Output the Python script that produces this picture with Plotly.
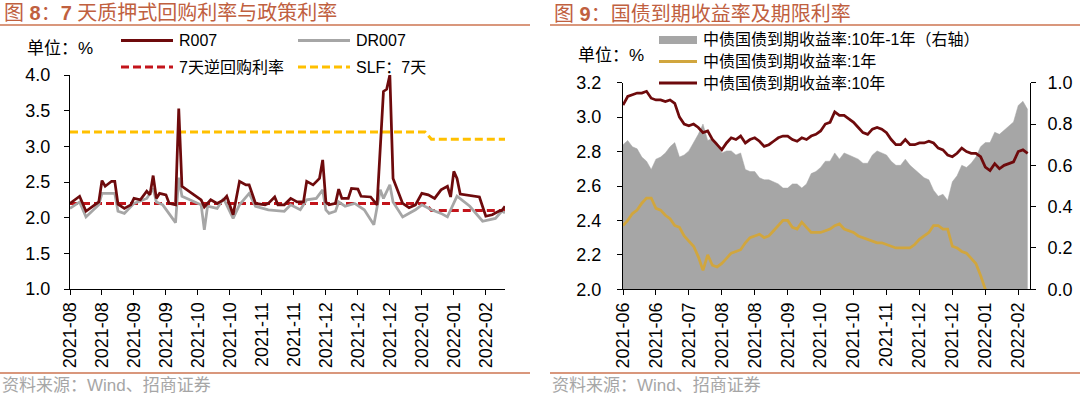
import plotly.graph_objects as go

W, H = 1080, 394

# ---------------- Figure 8 data (x = trading-day index) ----------------
tick_labels_8 = ["2021-08", "2021-08", "2021-09", "2021-09", "2021-10", "2021-10", "2021-11",
                 "2021-11", "2021-12", "2021-12", "2021-12", "2022-01", "2022-01", "2022-02"]
tick_step_8 = 10

r007_day = [0, 3, 5, 9, 10, 11, 13, 14, 15, 17, 19, 20, 22, 24, 25, 26, 27, 28, 30, 31, 33, 34, 35,
            41, 42, 44, 46, 48, 49, 51, 53, 55, 56, 58, 61, 62, 64, 65, 67, 69, 71, 73, 74, 76, 78,
            79, 80, 81, 83, 84, 85, 87, 88, 90, 91, 94, 96, 98, 99, 100, 101, 103, 104, 106, 108,
            110, 112, 114, 116, 118, 119, 120, 121, 122, 128, 130, 132, 134, 135, 136]
r007 = [2.20, 2.30, 2.09, 2.22, 2.52, 2.44, 2.51, 2.51, 2.19, 2.13, 2.18, 2.27, 2.25, 2.37, 2.32,
        2.59, 2.27, 2.34, 2.32, 2.20, 2.18, 3.53, 2.44, 2.25, 2.15, 2.25, 2.20, 2.25, 2.30, 2.04,
        2.51, 2.46, 2.46, 2.20, 2.18, 2.20, 2.29, 2.18, 2.18, 2.27, 2.22, 2.22, 2.51, 2.46, 2.55,
        2.81, 2.22, 2.18, 2.20, 2.40, 2.27, 2.27, 2.41, 2.40, 2.30, 2.29, 2.18, 3.77, 3.80, 4.00,
        2.55, 2.32, 2.20, 2.14, 2.18, 2.34, 2.32, 2.27, 2.39, 2.44, 2.29, 2.65, 2.55, 2.33, 2.29,
        2.02, 2.04, 2.09, 2.10, 2.16]

dr007_day = [0, 3, 5, 9, 10, 14, 15, 17, 20, 24, 26, 27, 29, 31, 33, 34, 35, 41, 42, 43, 46, 48,
             51, 53, 56, 58, 62, 67, 69, 72, 74, 77, 79, 80, 81, 83, 84, 86, 89, 92, 95, 97, 98,
             100, 101, 104, 106, 108, 110, 113, 116, 118, 121, 125, 129, 133, 135, 136]
dr007 = [2.13, 2.22, 2.01, 2.18, 2.34, 2.34, 2.09, 2.06, 2.20, 2.27, 2.41, 2.22, 2.18, 2.06, 1.93,
         2.56, 2.30, 2.18, 1.83, 2.16, 2.13, 2.27, 1.99, 2.18, 2.34, 2.16, 2.11, 2.09, 2.18, 2.11,
         2.25, 2.27, 2.39, 2.11, 2.06, 2.09, 2.22, 2.16, 2.20, 2.11, 1.90, 2.39, 2.27, 2.46, 2.22,
         2.01, 2.06, 2.11, 2.18, 2.11, 2.06, 2.01, 2.30, 2.16, 1.95, 1.99, 2.09, 2.07]

policy_day = [0, 111, 113, 136]
reverse_repo_7d = [2.20, 2.20, 2.10, 2.10]
slf_7d = [3.20, 3.20, 3.10, 3.10]

# ---------------- Figure 9 data (x = trading-day index) ----------------
tick_labels_9 = ["2021-06", "2021-06", "2021-07", "2021-08", "2021-08", "2021-09", "2021-10",
                 "2021-10", "2021-11", "2021-12", "2021-12", "2022-01", "2022-02"]
tick_step_9 = 14

bond_day = list(range(0, 173, 2))
cgb_10y = [3.07, 3.12, 3.13, 3.14, 3.14, 3.15, 3.11, 3.10, 3.10, 3.09,
           3.10, 3.08, 3.00, 2.96, 2.95, 2.96, 2.94, 2.91, 2.92, 2.87,
           2.84, 2.81, 2.85, 2.88, 2.87, 2.89, 2.85, 2.87, 2.88, 2.86,
           2.83, 2.84, 2.86, 2.88, 2.89, 2.89, 2.87, 2.86, 2.88, 2.87,
           2.89, 2.90, 2.92, 2.96, 2.97, 3.03, 3.01, 3.01, 2.99, 2.97,
           2.94, 2.91, 2.90, 2.93, 2.94, 2.93, 2.91, 2.87, 2.84, 2.84,
           2.87, 2.84, 2.84, 2.85, 2.85, 2.86, 2.85, 2.82, 2.81, 2.78,
           2.77, 2.79, 2.82, 2.80, 2.79, 2.79, 2.77, 2.71, 2.69, 2.73,
           2.70, 2.72, 2.73, 2.74, 2.80, 2.81, 2.79]
cgb_1y = [2.37, 2.40, 2.44, 2.46, 2.50, 2.53, 2.53, 2.47, 2.46, 2.43,
          2.41, 2.37, 2.36, 2.31, 2.28, 2.25, 2.19, 2.11, 2.20, 2.14,
          2.13, 2.15, 2.18, 2.21, 2.22, 2.23, 2.27, 2.30, 2.31, 2.32,
          2.30, 2.31, 2.34, 2.37, 2.40, 2.40, 2.36, 2.35, 2.39, 2.36,
          2.33, 2.33, 2.33, 2.34, 2.35, 2.37, 2.38, 2.35, 2.34, 2.33,
          2.31, 2.30, 2.29, 2.28, 2.27, 2.27, 2.26, 2.25, 2.24, 2.24,
          2.24, 2.24, 2.26, 2.29, 2.31, 2.33, 2.37, 2.37, 2.35, 2.35,
          2.25, 2.24, 2.22, 2.21, 2.18, 2.15, 2.08, 2.00, 1.98, 1.97,
          1.95, 1.95, 1.94, 1.93, 1.91, 1.90, 1.92]
term_spread = [round(a - b, 2) for a, b in zip(cgb_10y, cgb_1y)]

# ---------------- styling ----------------
C_R007 = "#6E0A0C"
C_GRAY = "#A6A6A6"
C_RED = "#C3141B"
C_YEL = "#FFC000"
C_GOLD = "#D1A63E"
C_TITLE = "#C0603F"
C_RULE = "#D9977C"
FONT_NUM = "Liberation Sans, Arial, Noto Sans CJK SC"
FONT_CJK = "Liberation Sans, Noto Sans CJK SC"
DASH = "8px,4px"


def px(x):
    return x / W


def py(y):
    return 1 - y / H


fig = go.Figure()

# Figure 8 traces
fig.add_trace(go.Scatter(x=policy_day, y=slf_7d, mode="lines", xaxis="x", yaxis="y",
                         line=dict(color=C_YEL, width=3, dash=DASH), showlegend=False))
fig.add_trace(go.Scatter(x=policy_day, y=reverse_repo_7d, mode="lines", xaxis="x", yaxis="y",
                         line=dict(color=C_RED, width=3, dash=DASH), showlegend=False))
fig.add_trace(go.Scatter(x=dr007_day, y=dr007, mode="lines", xaxis="x", yaxis="y",
                         line=dict(color=C_GRAY, width=2.75), showlegend=False))
fig.add_trace(go.Scatter(x=r007_day, y=r007, mode="lines", xaxis="x", yaxis="y",
                         line=dict(color=C_R007, width=2.75), showlegend=False))

# Figure 9 traces
fig.add_trace(go.Scatter(x=bond_day, y=term_spread, mode="lines", fill="tozeroy",
                         xaxis="x2", yaxis="y3", fillcolor=C_GRAY,
                         line=dict(color=C_GRAY, width=0.5), showlegend=False))
fig.add_trace(go.Scatter(x=bond_day, y=cgb_1y, mode="lines", xaxis="x2", yaxis="y4",
                         line=dict(color=C_GOLD, width=2.75), showlegend=False))
fig.add_trace(go.Scatter(x=bond_day, y=cgb_10y, mode="lines", xaxis="x2", yaxis="y4",
                         line=dict(color=C_R007, width=2.75), showlegend=False))

axis_common = dict(showline=True, linecolor="black", linewidth=1, ticks="outside",
                   ticklen=5, tickcolor="black", showgrid=False, zeroline=False,
                   automargin=False,
                   tickfont=dict(family=FONT_NUM, size=18, color="black"))

fig.update_layout(
    width=W, height=H,
    margin=dict(l=0, r=0, t=0, b=0, autoexpand=False),
    paper_bgcolor="white", plot_bgcolor="white",
    showlegend=False,
    xaxis=dict(domain=[px(70), px(505)], range=[0, 136], anchor="y",
               tickvals=[i * tick_step_8 for i in range(len(tick_labels_8))],
               ticktext=tick_labels_8, tickangle=-90, **axis_common),
    yaxis=dict(domain=[py(289), py(75)], range=[1.0, 4.0], dtick=0.5, tickformat=".1f",
               anchor="x", ticklabelstandoff=10, **axis_common),
    xaxis2=dict(domain=[px(623), px(1030)], range=[0, 173], anchor="y3",
                tickvals=[i * tick_step_9 for i in range(len(tick_labels_9))],
                ticktext=tick_labels_9, tickangle=-90, **axis_common),
    yaxis3=dict(domain=[py(289.3), py(82.7)], range=[0, 1.0], dtick=0.2, tickformat=".1f",
                anchor="x2", side="right", ticklabelstandoff=8, **axis_common),
    yaxis4=dict(domain=[py(289.3), py(82.7)], range=[2.0, 3.2], dtick=0.2, tickformat=".1f",
                anchor="x2", overlaying="y3", side="left", ticklabelstandoff=12,
                **axis_common),
)

shapes = []
annotations = []

# header / footer rules
for x0, x1 in [(0, 530), (550, 1080)]:
    shapes.append(dict(type="line", xref="paper", yref="paper", x0=px(x0), x1=px(x1),
                       y0=py(25), y1=py(25), line=dict(color=C_RULE, width=2)))
    shapes.append(dict(type="line", xref="paper", yref="paper", x0=px(x0), x1=px(x1),
                       y0=py(373), y1=py(373), line=dict(color=C_RULE, width=2)))


def text(x, y, s, size=16, color="black", family=FONT_CJK):
    annotations.append(dict(x=px(x), y=py(y), xref="paper", yref="paper", text=s,
                            showarrow=False, xanchor="left", yanchor="middle",
                            font=dict(family=family, size=size, color=color)))


def legend_line(x0, x1, y, color, dash=None, width=3):
    ln = dict(color=color, width=width)
    if dash:
        ln["dash"] = dash
    shapes.append(dict(type="line", xref="paper", yref="paper", x0=px(x0), x1=px(x1),
                       y0=py(y), y1=py(y), line=ln))


# titles
text(2, 13, "图 <b>8</b>：<b>7</b> 天质押式回购利率与政策利率", size=20, color=C_TITLE)
text(552, 14, "图 <b>9</b>：国债到期收益率及期限利率", size=20, color=C_TITLE)

# sources
text(0, 385, "资料来源：Wind、招商证券", size=17, color="#A6A6A6")
text(550, 385, "资料来源：Wind、招商证券", size=17, color="#A6A6A6")

# left legend
text(25, 48, "单位：%", size=17)
legend_line(121, 173, 40.5, C_R007)
text(177, 40.5, "R007", size=16)
legend_line(298, 350, 40.5, C_GRAY)
text(354, 40.5, "DR007", size=16)
legend_line(121, 173, 67, C_RED, dash=DASH)
text(177, 67, "7天逆回购利率", size=16)
legend_line(298, 350, 67, C_YEL, dash=DASH)
text(354, 67, "SLF：7天", size=16)

# right legend
text(576, 55, "单位：%", size=17)
shapes.append(dict(type="rect", xref="paper", yref="paper", x0=px(659), x1=px(697),
                   y0=py(44), y1=py(36), fillcolor=C_GRAY, line=dict(width=0)))
text(701, 40, "中债国债到期收益率:10年-1年（右轴）", size=16)
legend_line(659, 697, 61.5, C_GOLD)
text(701, 61.5, "中债国债到期收益率:1年", size=16)
legend_line(659, 697, 83, C_R007)
text(701, 83, "中债国债到期收益率:10年", size=16)

fig.update_layout(shapes=shapes, annotations=annotations)
fig.write_html("out.html",
               config={"displayModeBar": False},
               post_script="document.body.style.margin='0';"
                           "document.body.style.overflow='hidden';")
